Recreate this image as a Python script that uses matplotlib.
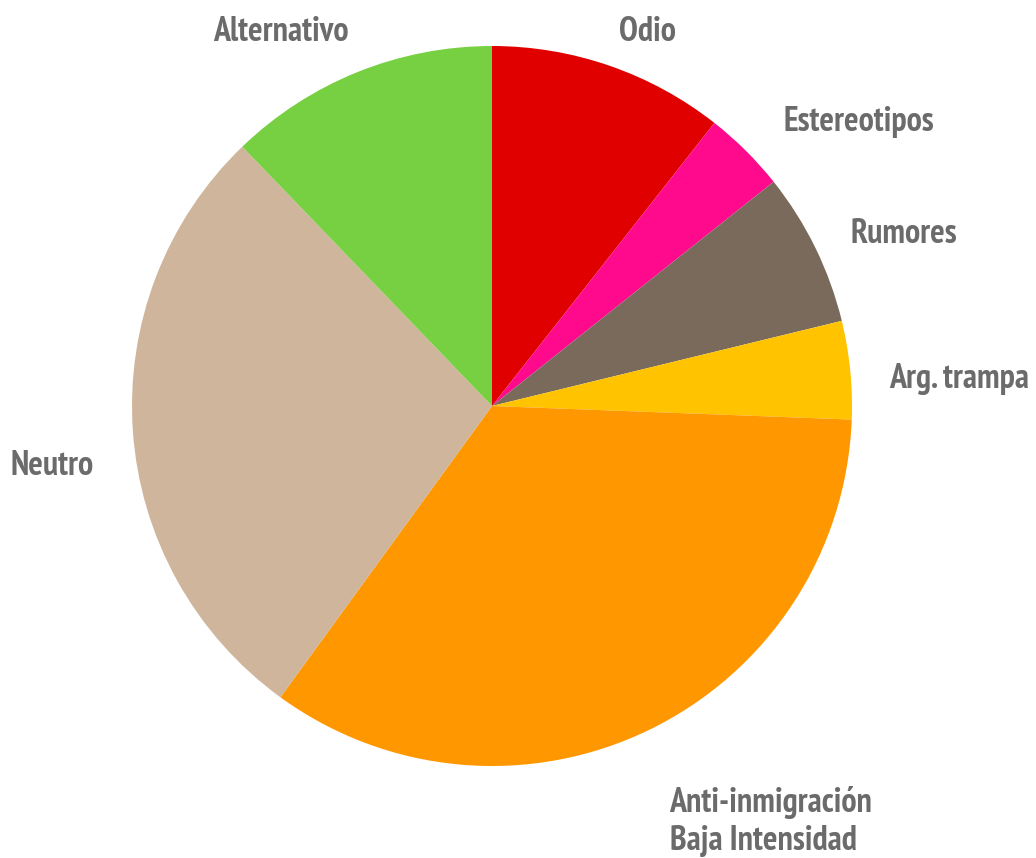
import matplotlib.pyplot as plt
from matplotlib import font_manager

categories = ["Odio", "Estereotipos", "Rumores", "Arg. trampa",
              "Anti-inmigración\nBaja Intensidad", "Neutro", "Alternativo"]
values = [10.6, 3.7, 6.9, 4.4, 34.4, 27.8, 12.2]
colors = ["#E10000", "#FF0A8C", "#7A6A5C", "#FFC300", "#FF9800", "#CFB59C", "#77D042"]

# label positions (in pie radius units)
label_pos = [(0.433, 1.04), (1.019, 0.79), (1.144, 0.479), (1.297, 0.076),
             (0.775, -1.155), (-1.222, -0.168), (-0.586, 1.04)]

names = {f.name for f in font_manager.fontManager.ttflist}
wanted = ["PT Sans Narrow", "Fira Sans Condensed", "Roboto Condensed",
          "Open Sans Condensed", "Barlow Semi Condensed", "Barlow Condensed"]
family = [n for n in wanted if n in names][:1] + ["DejaVu Sans"]

fig = plt.figure(figsize=(10.36, 8.58), dpi=100)
ax = fig.add_axes([0, 0, 1, 1])

ax.pie(values, colors=colors, startangle=90, counterclock=False, radius=1,
       wedgeprops=dict(linewidth=0))

ax.set_xlim(-492 / 360, (1036 - 492) / 360)
ax.set_ylim(-(858 - 406) / 360, 406 / 360)
ax.set_aspect("auto")
ax.axis("off")

for lab, (x, y) in zip(categories, label_pos):
    ax.text(x, y, lab, ha="center", va="center", multialignment="left",
            fontsize=24.5, fontweight="bold", family=family, color="#6B6B6B",
            linespacing=1.25)

fig.savefig("out.png", dpi=100)
